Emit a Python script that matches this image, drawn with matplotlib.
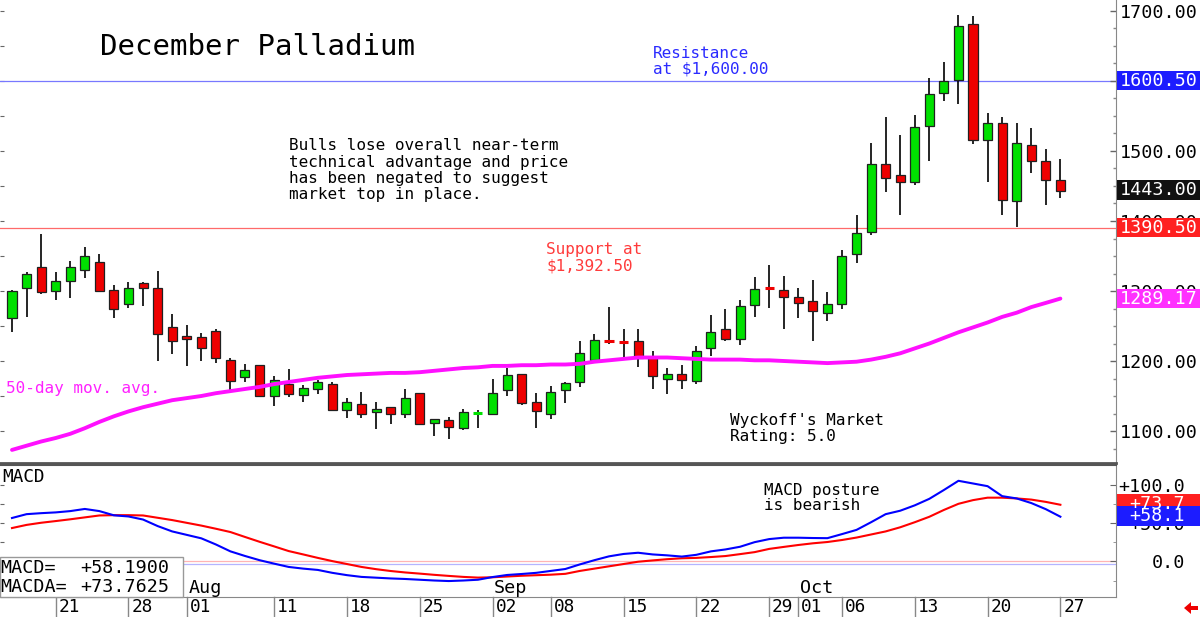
import matplotlib
matplotlib.use("Agg")
import matplotlib.pyplot as plt
from matplotlib.patches import Rectangle, Polygon
from matplotlib.transforms import blended_transform_factory
from matplotlib.ticker import MultipleLocator, FixedLocator

plt.rcParams['font.family'] = ['DejaVu Sans Mono', 'DejaVu Sans']

# daily candles, Jul 16 .. Oct 27
opens = [1262, 1305, 1334, 1300, 1315, 1330, 1342, 1302, 1282, 1312,
         1305, 1249, 1236, 1235, 1243, 1202, 1177, 1195, 1150, 1167,
         1151, 1160, 1167, 1130, 1139, 1127, 1134, 1125, 1154, 1112,
         1116, 1105, 1126, 1125, 1158, 1181, 1141, 1125, 1158, 1170,
         1202, 1228, 1227, 1228, 1205, 1174, 1182, 1171, 1218, 1246,
         1231, 1280, 1304, 1301, 1291, 1286, 1269, 1282, 1353, 1385,
         1481, 1466, 1455, 1536, 1583, 1601, 1681, 1515, 1540, 1429,
         1509, 1486, 1459]
highs = [1301, 1327, 1381, 1327, 1343, 1363, 1353, 1308, 1313, 1313,
         1328, 1267, 1252, 1240, 1246, 1204, 1196, 1195, 1179, 1189,
         1166, 1173, 1170, 1147, 1156, 1142, 1135, 1160, 1154, 1117,
         1120, 1131, 1130, 1174, 1190, 1182, 1155, 1165, 1170, 1229,
         1239, 1277, 1246, 1246, 1214, 1190, 1194, 1221, 1266, 1274,
         1287, 1320, 1337, 1321, 1304, 1316, 1299, 1358, 1408, 1511,
         1548, 1523, 1551, 1604, 1627, 1694, 1693, 1554, 1548, 1540,
         1533, 1503, 1488]
lows = [1242, 1263, 1296, 1287, 1290, 1319, 1300, 1261, 1276, 1279,
        1200, 1210, 1193, 1200, 1197, 1159, 1170, 1150, 1136, 1149,
        1142, 1153, 1130, 1119, 1119, 1103, 1110, 1119, 1109, 1093,
        1088, 1102, 1105, 1125, 1150, 1137, 1104, 1117, 1140, 1163,
        1201, 1225, 1204, 1192, 1160, 1153, 1160, 1167, 1207, 1228,
        1223, 1263, 1276, 1246, 1262, 1228, 1257, 1275, 1340, 1380,
        1441, 1409, 1451, 1486, 1571, 1567, 1510, 1455, 1409, 1392,
        1469, 1423, 1433]
closes = [1300, 1325, 1298, 1314, 1335, 1350, 1300, 1275, 1304, 1305,
          1239, 1228, 1232, 1219, 1205, 1172, 1187, 1150, 1173, 1153,
          1161, 1170, 1130, 1141, 1125, 1132, 1124, 1147, 1110, 1117,
          1106, 1127, 1127, 1155, 1180, 1140, 1128, 1156, 1169, 1212,
          1230, 1227, 1226, 1205, 1178, 1181, 1173, 1214, 1241, 1232,
          1278, 1303, 1303, 1292, 1283, 1271, 1281, 1350, 1383, 1481,
          1462, 1455, 1534, 1581, 1600, 1678, 1516, 1540, 1430, 1511,
          1485, 1458, 1443]

ma50 = [1073, 1079, 1085, 1090, 1096, 1104, 1113, 1121, 1128, 1134,
        1139, 1144, 1147, 1150, 1154, 1157, 1160, 1163, 1167, 1170,
        1173, 1176, 1178, 1180, 1181, 1182, 1183, 1183, 1184, 1186,
        1188, 1190, 1191, 1193, 1193, 1194, 1194, 1195, 1195, 1196,
        1199, 1201, 1203, 1205, 1205, 1205, 1204, 1203, 1202, 1202,
        1202, 1201, 1201, 1200, 1199, 1198, 1197, 1198, 1199, 1202,
        1206, 1211, 1218, 1225, 1233, 1241, 1248, 1255, 1263, 1269,
        1277, 1283, 1289.17]

macd = [56.5, 61.5, 62.8, 63.8, 65.5, 68.3, 65.5, 60.0, 58.5, 54.5,
        46.0, 39.0, 34.5, 30.0, 22.0, 13.0, 7.0, 1.5, -3.0, -7.3,
        -9.5, -11.2, -15.0, -18.0, -20.3, -21.3, -22.3, -23.0, -24.0, -25.0,
        -25.7, -25.0, -24.0, -20.5, -17.8, -16.5, -15.0, -12.5, -10.0, -4.0,
        1.5, 6.5, 9.6, 11.2, 9.0, 7.8, 6.2, 8.5, 13.0, 15.5,
        19.0, 25.0, 29.0, 30.8, 30.8, 30.4, 30.2, 35.5, 41.0, 51.0,
        61.5, 66.0, 73.0, 81.5, 93.0, 105.0, 101.5, 98.0, 85.0, 82.0,
        76.0, 68.0, 58.19]
macda = [43.4, 47.5, 50.3, 52.5, 54.8, 57.3, 59.8, 60.2, 60.2, 59.8,
         56.8, 53.8, 50.2, 46.6, 42.5, 38.2, 31.8, 25.5, 19.5, 13.4,
         9.0, 4.5, 0.3, -3.5, -7.3, -10.2, -12.6, -14.5, -16.0, -17.6,
         -19.0, -20.3, -21.2, -20.8, -19.8, -18.8, -18.1, -17.4, -16.3, -12.5,
         -9.5, -6.5, -3.5, -0.5, 1.2, 2.8, 4.0, 4.5, 5.6, 6.9,
         9.4, 12.0, 16.2, 18.8, 21.3, 23.5, 25.2, 27.8, 31.0, 35.0,
         39.0, 44.4, 51.0, 58.1, 67.0, 75.0, 79.8, 83.0, 83.0, 82.0,
         80.5, 77.5, 73.7625]

# date labels: candle index, label
tick_idx = [3, 8, 12, 18, 23, 28, 33, 37, 42, 47, 52, 54, 57, 62, 67, 72]
tick_lab = ['21', '28', '01', '11', '18', '25', '02', '08', '15', '22',
            '29', '01', '06', '13', '20', '27']
month_idx = [12, 33, 54]
month_lab = ['Aug', 'Sep', 'Oct']

resistance = 1600.50
support = 1390.50

W, H = 1200, 617
fig = plt.figure(figsize=(12, 6.17), dpi=100)
fig.patch.set_facecolor('white')

def fx(x):
    return x / W

def fy(y):
    return 1 - y / H

def ftext(x, y, s, **kw):
    kw.setdefault('va', 'center')
    kw.setdefault('ha', 'left')
    fig.text(fx(x), fy(y), s, **kw)

def trunc1(v):
    # chart tags cut the value to one decimal
    return '+%.1f' % (int(v * 10) / 10.0)

ax = fig.add_axes([0, fy(463), fx(1116), 463 / H])
axm = fig.add_axes([0, fy(597), fx(1116), 132 / H])

GREEN = '#00e000'
RED = '#ee0000'
n = len(opens)
xs = list(range(n))

# candles
for i in xs:
    o, h, l, c = opens[i], highs[i], lows[i], closes[i]
    col = GREEN if c >= o else RED
    ax.vlines(i, l, h, color='black', lw=1.2, zorder=2)
    if abs(c - o) < 1.5:
        ax.hlines(o, i - 0.31, i + 0.31, color=col, lw=2.2, zorder=3)
    else:
        ax.bar(i, abs(c - o), bottom=min(o, c), width=0.62, color=col,
               edgecolor='#202020', lw=0.9, zorder=3)

ax.plot(xs, ma50, color='#ff10ff', lw=2.8, zorder=4, solid_capstyle='round')
ax.axhline(resistance, color='#7878ff', lw=0.9, zorder=1)
ax.axhline(support, color='#ff6a6a', lw=0.9, zorder=1)

ax.set_xlim(-0.824, 75.82)
ax.set_ylim(1054.3, 1715.7)
ax.set_xticks([])
for s in ['left', 'top']:
    ax.spines[s].set_visible(False)
ax.spines['right'].set_color('#888888')
ax.spines['bottom'].set_color('#555555')
ax.spines['bottom'].set_linewidth(2)
ax.yaxis.tick_right()
ax.yaxis.set_major_locator(FixedLocator([1100, 1200, 1300, 1400, 1500, 1600, 1700]))
ax.yaxis.set_minor_locator(MultipleLocator(25))
ax.set_yticklabels(['%.2f' % v for v in [1100, 1200, 1300, 1400, 1500, 1600, 1700]])
ax.tick_params(axis='y', which='major', direction='in', length=4, width=1,
               color='#666666', pad=3, labelsize=13.2)
ax.tick_params(axis='y', which='minor', direction='in', length=2, width=1,
               color='#888888')
sec = ax.secondary_yaxis('left')
sec.set_yticks(list(range(1100, 1701, 50)))
sec.set_yticklabels([])
sec.tick_params(direction='in', length=3, color='#666666')
sec.spines['left'].set_visible(False)

# MACD panel
axm.axhline(0.8, color='#ffb4b4', lw=0.9, zorder=1)
axm.axhline(-2.9, color='#b4b4ff', lw=0.9, zorder=1)
axm.plot(xs, macda, color='#ff0000', lw=1.5, zorder=3)
axm.plot(xs, macd, color='#0000ff', lw=1.5, zorder=3)
axm.set_xlim(-0.824, 75.82)
axm.set_ylim(-46.5, 125.6)
axm.set_xticks([])
axm.spines['left'].set_visible(False)
axm.spines['top'].set_color('#555555')
axm.spines['top'].set_linewidth(1.5)
axm.spines['right'].set_color('#888888')
axm.spines['bottom'].set_color('#888888')
axm.yaxis.tick_right()
axm.yaxis.set_major_locator(FixedLocator([0, 50, 100]))
axm.yaxis.set_minor_locator(MultipleLocator(25))
axm.set_yticklabels(['0.0', '+50.0', '+100.0'])
for t in axm.get_yticklabels():
    t.set_horizontalalignment('right')
axm.tick_params(axis='y', which='major', direction='in', length=4,
                color='#666666', pad=49.5, labelsize=13.2)
axm.tick_params(axis='y', which='minor', direction='in', length=2,
                color='#888888')
secm = axm.secondary_yaxis('left')
secm.set_yticks([-25, 0, 25, 50, 75, 100])
secm.set_yticklabels([])
secm.tick_params(direction='in', length=3, color='#666666')
secm.spines['left'].set_visible(False)

# date row under the MACD panel
bt = blended_transform_factory(axm.transData, axm.transAxes)
for i, lab in zip(tick_idx, tick_lab):
    axm.plot([i, i], [0, -0.155], color='#888888', lw=1, transform=bt,
             clip_on=False)
    axm.text(i + 0.2, -0.076, lab, transform=bt, va='center', ha='left',
             fontsize=12.8)
for i, lab in zip(month_idx, month_lab):
    axm.text(i + 0.1, 0.07, lab, transform=bt, va='center', ha='left',
             fontsize=13.2)

# text annotations
ftext(100, 47, 'December Palladium', fontsize=21)
body = ['Bulls lose overall near-term', 'technical advantage and price',
        'has been negated to suggest', 'market top in place.']
for k, line in enumerate(body):
    ftext(289, 146 + 16.3 * k, line, fontsize=11.5)
ftext(653, 53, 'Resistance', fontsize=11.5, color='#2b2bff')
ftext(653, 69, 'at $1,600.00', fontsize=11.5, color='#2b2bff')
ftext(546, 250, 'Support at', fontsize=11.5, color='#ff3b3b')
ftext(546, 266, '$1,392.50', fontsize=11.5, color='#ff3b3b')
ftext(6, 389, '50-day mov. avg.', fontsize=11.5, color='#ff22ff')
ftext(730, 420, "Wyckoff's Market", fontsize=11.5)
ftext(730, 436, 'Rating: 5.0', fontsize=11.5)
ftext(764, 490, 'MACD posture', fontsize=11.5)
ftext(764, 506, 'is bearish', fontsize=11.5)
ftext(2, 477, 'MACD', fontsize=12.8)

# MACD value box
fig.add_artist(Rectangle((0, fy(597)), fx(183), 40 / H, transform=fig.transFigure,
                         facecolor='white', edgecolor='#999999', lw=1, zorder=5))
ftext(0, 568, 'MACD=', fontsize=13.2, zorder=6)
ftext(80, 568, '+%.4f' % macd[-1], fontsize=13.2, zorder=6)
ftext(0, 587, 'MACDA=', fontsize=13.2, zorder=6)
ftext(80, 587, '+%.4f' % macda[-1], fontsize=13.2, zorder=6)

# value tags on the right axis
def tag(y0, y1, color, s, right=False):
    fig.add_artist(Rectangle((fx(1117), fy(y1)), fx(83), (y1 - y0) / H,
                             transform=fig.transFigure, facecolor=color,
                             edgecolor='none', zorder=5))
    if right:
        ftext(1185, (y0 + y1) / 2, s, color='white', fontsize=13.2, ha='right', zorder=6)
    else:
        ftext(1120, (y0 + y1) / 2, s, color='white', fontsize=13.2, zorder=6)

tag(71, 90, '#1c1cff', '%.2f' % resistance)
tag(180, 200, '#111111', '%.2f' % closes[-1])
tag(218, 237, '#ff2020', '%.2f' % support)
tag(289, 308, '#ff30ff', '%.2f' % ma50[-1])
tag(494, 514, '#ff2020', trunc1(macda[-1]), right=True)
tag(506, 526, '#1c1cff', trunc1(macd[-1]), right=True)

# small red arrow bottom right
arrow = [(1184, 608), (1191, 602), (1191, 606), (1198, 606),
         (1198, 610), (1191, 610), (1191, 614)]
fig.add_artist(Polygon([(fx(a), fy(b)) for a, b in arrow], closed=True,
                       transform=fig.transFigure, facecolor='#ee0000',
                       edgecolor='none', zorder=5))

fig.savefig('out.png', dpi=100, facecolor='white')
